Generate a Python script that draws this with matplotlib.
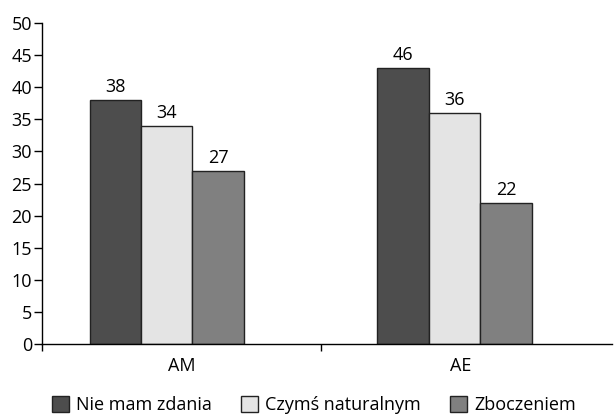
import numpy as np
import matplotlib.pyplot as plt

plt.rcParams['font.family'] = ['Open Sans', 'DejaVu Sans']

categories = ['AM', 'AE']
series = ['Nie mam zdania', 'Czymś naturalnym', 'Zboczeniem']
nie_mam_zdania = [38, 43]
czyms_naturalnym = [34, 36]
zboczeniem = [27, 22]
# value labels as printed on the chart
labels_nie_mam = ['38', '46']
labels_czyms = ['34', '36']
labels_zbocz = ['27', '22']

colors = ['#4d4d4d', '#e4e4e4', '#808080']
fs = 13

fig = plt.figure(figsize=(6.15, 4.18), dpi=100)
ax = fig.add_axes([0.068, 0.176, 0.927, 0.77])

x = np.arange(len(categories)) * 1.03 + 0.447
w = 0.184
values = [nie_mam_zdania, czyms_naturalnym, zboczeniem]
texts = [labels_nie_mam, labels_czyms, labels_zbocz]
for k in range(3):
    bars = ax.bar(x + (k - 1) * w, values[k], w, color=colors[k],
                  edgecolor='#222222', linewidth=1, label=series[k])
    for b, t in zip(bars, texts[k]):
        ax.text(b.get_x() + b.get_width() / 2, b.get_height() + 0.6, t,
                ha='center', va='bottom', fontsize=fs)

ax.set_xlim(0, 2.04)
ax.set_ylim(0, 50)
ax.set_yticks(np.arange(0, 51, 5))
ax.set_xticks([0.5, 1.5])
ax.set_xticklabels(categories)
ax.set_xticks([0, 1], minor=True)
ax.tick_params(axis='x', which='major', length=0, pad=9, labelsize=fs)
ax.tick_params(axis='x', which='minor', length=5, direction='out', width=1)
ax.tick_params(axis='y', length=6, width=1, labelsize=fs, pad=1)
for s in ['top', 'right']:
    ax.spines[s].set_visible(False)
ax.spines['left'].set_linewidth(1)
ax.spines['bottom'].set_linewidth(1)

fig.legend(loc='lower center', bbox_to_anchor=(0.51, -0.03), ncol=3,
           frameon=False, fontsize=fs, handlelength=0.95, handleheight=0.95,
           handletextpad=0.4, columnspacing=1.6)

fig.savefig('out.png', dpi=100)
